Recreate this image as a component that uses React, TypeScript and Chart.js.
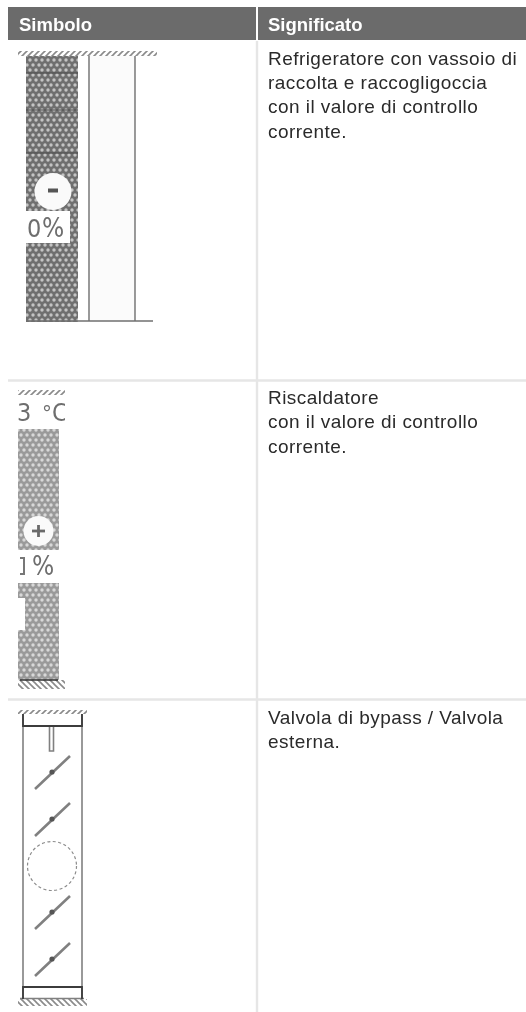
import React, { useEffect, useRef } from "react";
import { Chart, registerables } from "chart.js";

Chart.register(...registerables);

type P = [number, number];
type Mark = { x: number; y: number; text: string };

const headerLabels: Mark[] = [
  { x: 19, y: 31, text: "Simbolo" },
  { x: 268, y: 31, text: "Significato" },
];
const bodyLabels: Mark[] = [
  { x: 268, y: 64.5, text: "Refrigeratore con vassoio di" },
  { x: 268, y: 88.5, text: "raccolta e raccogligoccia" },
  { x: 268, y: 113, text: "con il valore di controllo" },
  { x: 268, y: 137.5, text: "corrente." },
  { x: 268, y: 404, text: "Riscaldatore" },
  { x: 268, y: 428, text: "con il valore di controllo" },
  { x: 268, y: 452.5, text: "corrente." },
  { x: 268, y: 724, text: "Valvola di bypass / Valvola" },
  { x: 268, y: 748, text: "esterna." },
];
const symbolLabels: (Mark & { size: number })[] = [
  { x: 27, y: 237, text: "0", size: 25 },
  { x: 42, y: 237, text: "%", size: 26 },
  { x: 17, y: 421, text: "3", size: 25 },
  { x: 42, y: 421, text: "°", size: 22 },
  { x: 52, y: 421, text: "C", size: 25 },
  { x: 32, y: 575, text: "%", size: 26 },
];

const headerBars: P[][] = [[[8, 23.5], [256, 23.5]], [[258, 23.5], [526, 23.5]]];
const tableRules: P[][] = [
  [[8, 380.5], [526, 380.5]],
  [[8, 699.5], [526, 699.5]],
  [[257, 41], [257, 1012]],
];

const dotFillDark: P[][] = [[[52, 56], [52, 322]]];
const dotFillLight: P[][] = [[[38.5, 429], [38.5, 550]], [[38.5, 583], [38.5, 680]]];
const paleFill: P[][] = [[[112, 56], [112, 321]]];
const whiteBoxes: { seg: P[]; w: number }[] = [
  { seg: [[24, 227], [70, 227]], w: 32 },
  { seg: [[18, 614], [25, 614]], w: 32 },
];
const hatchTop: { seg: P[]; w: number }[] = [
  { seg: [[18, 53.5], [157, 53.5]], w: 5 },
  { seg: [[18, 392.5], [65, 392.5]], w: 5 },
  { seg: [[18, 712], [87, 712]], w: 4 },
];
const hatchBottom: { seg: P[]; w: number }[] = [
  { seg: [[18, 684.5], [65, 684.5]], w: 9 },
  { seg: [[18, 1002.5], [87, 1002.5]], w: 7 },
];
const fridgeLines: P[][] = [
  [[89, 56], [89, 321]],
  [[135, 56], [135, 321]],
  [[26, 321], [153, 321]],
];
const fridgeBands: P[][] = [
  [[26, 110], [78, 110]],
  [[26, 73], [78, 73]],
  [[26, 153], [78, 153]],
];
const heaterLines: P[][] = [[[20, 680], [58, 680]]];
const valveFrame: P[][] = [
  [[23, 714], [23, 999]],
  [[82, 714], [82, 999]],
  [[49.5, 727], [49.5, 751], [53.5, 751], [53.5, 727]],
  [[20, 998.5], [84, 998.5]],
];
const valveDark: P[][] = [
  [[23, 714], [23, 726], [82, 726], [82, 714]],
  [[82, 999], [82, 987], [23, 987], [23, 999]],
];
const valveSlats: P[][] = [
  [[35, 789], [70, 756]],
  [[35, 836], [70, 803]],
  [[35, 929], [70, 896]],
  [[35, 976], [70, 943]],
];
const slatPivots: P[] = [[52, 772], [52, 819], [52, 912], [52, 959]];
const knobDiscs: { at: P; r: number }[] = [
  { at: [53, 191.5], r: 18.5 },
  { at: [38.5, 531], r: 15 },
];
const minusMark: P[][] = [[[48, 190.5], [58, 190.5]]];
const plusMark: P[][] = [
  [[32, 531], [45, 531]],
  [[38.5, 525], [38.5, 537]],
];
const dashedCircleAt: P = [52, 866];
const clippedZero: P[][] = [[[20, 558], [24, 558], [24, 574], [20, 574]]];

function dotPattern(bg: string, dot: string): CanvasPattern {
  const c = document.createElement("canvas");
  c.width = 6;
  c.height = 10;
  const g = c.getContext("2d")!;
  g.fillStyle = bg;
  g.fillRect(0, 0, 6, 10);
  g.fillStyle = dot;
  for (const [x, y] of [[0, 0], [6, 0], [0, 10], [6, 10], [3, 5]]) {
    g.beginPath();
    g.arc(x, y, 1.7, 0, Math.PI * 2);
    g.fill();
  }
  return g.createPattern(c, "repeat")!;
}

function hatchPattern(bg: string, ink: string, flip: boolean): CanvasPattern {
  const c = document.createElement("canvas");
  c.width = 6;
  c.height = 6;
  const g = c.getContext("2d")!;
  g.fillStyle = bg;
  g.fillRect(0, 0, 6, 6);
  g.strokeStyle = ink;
  g.lineWidth = 1.6;
  const lines = flip
    ? [[-3, 3, 3, 9], [0, 0, 6, 6], [3, -3, 9, 3]]
    : [[-3, 3, 3, -3], [0, 6, 6, 0], [3, 9, 9, 3]];
  for (const [a, b, d, e] of lines) {
    g.beginPath();
    g.moveTo(a, b);
    g.lineTo(d, e);
    g.stroke();
  }
  return g.createPattern(c, "repeat")!;
}

const toPts = (s: P[]) => s.map(([x, y]) => ({ x, y }));

function stroke(segs: P[][], color: any, w: number, blur = 0.6) {
  return segs.map((s) => ({
    data: toPts(s),
    showLine: true,
    borderColor: color,
    borderWidth: w,
    pointRadius: 0,
    fill: false,
    tension: 0,
    borderCapStyle: "butt",
    blur,
  }));
}

export default function App() {
  const ref = useRef<HTMLCanvasElement>(null);
  useEffect(() => {
    const darkDots = dotPattern("#6f6f6f", "#c4c4c4");
    const lightDots = dotPattern("#9a9a9a", "#d8d8d8");
    const topHatch = hatchPattern("#ffffff", "#8a8a8a", false);
    const botHatch = hatchPattern("#ffffff", "#8a8a8a", true);

    const layers: any[] = [
      ...stroke(tableRules, "#e6e6e6", 2.4, 0),
      ...stroke(headerBars, "#6b6b6b", 33, 0),
      ...stroke(paleFill, "#fbfbfb", 46),
      ...stroke(dotFillDark, darkDots, 52),
      ...stroke(dotFillLight, lightDots, 41),
      ...whiteBoxes.flatMap((b) => stroke([b.seg], "#ffffff", b.w)),
      ...hatchTop.flatMap((b) => stroke([b.seg], topHatch, b.w)),
      ...hatchBottom.flatMap((b) => stroke([b.seg], botHatch, b.w)),
      ...stroke(fridgeLines, "#6f6f6f", 1.4),
      ...stroke(fridgeBands, "#4a4a4a", 1.2),
      ...stroke(heaterLines, "#333333", 1.6),
      ...stroke(clippedZero, "#777777", 2),
      ...stroke(valveFrame, "#808080", 1.6),
      ...stroke(valveDark, "#3c3c3c", 1.8),
      ...stroke(valveSlats, "#808080", 2.6),
      {
        data: toPts(slatPivots),
        showLine: false,
        pointRadius: 2.6,
        pointBorderWidth: 0,
        pointBackgroundColor: "#555555",
        blur: 0.5,
      },
      {
        data: toPts([dashedCircleAt]),
        showLine: false,
        pointRadius: 24.5,
        pointBorderWidth: 1.2,
        pointBorderColor: "#8c8c8c",
        pointBackgroundColor: "rgba(255,255,255,0)",
        dash: [3, 2.5],
        blur: 0.3,
      },
      ...knobDiscs.map((k) => ({
        data: toPts([k.at]),
        showLine: false,
        pointRadius: k.r,
        pointBorderWidth: 0,
        pointBackgroundColor: "#fafafa",
        blur: 0.6,
      })),
      ...stroke(minusMark, "#555555", 4),
      ...stroke(plusMark, "#6a6a6a", 2.8),
    ];

    const chart = new Chart(ref.current!, {
      type: "scatter",
      data: { datasets: layers.reverse() },
      options: {
        animation: false,
        responsive: false,
        events: [],
        layout: { padding: 0, autoPadding: false },
        plugins: { legend: { display: false }, tooltip: { enabled: false }, title: { display: false } },
        scales: {
          x: { type: "linear", min: 0, max: 526, display: false },
          y: { type: "linear", min: 0, max: 1012, reverse: true, display: false },
        },
      },
      plugins: [
        {
          id: "layerEffects",
          beforeDatasetDraw(c: any, args: any) {
            const d = c.data.datasets[args.index];
            c.ctx.save();
            if (d.blur) c.ctx.filter = `blur(${d.blur}px)`;
            if (d.dash) c.ctx.setLineDash(d.dash);
          },
          afterDatasetDraw(c: any) {
            c.ctx.restore();
          },
        },
        {
          id: "tableText",
          afterDatasetsDraw(c: any) {
            const g = c.ctx;
            const sx = c.scales.x;
            const sy = c.scales.y;
            g.save();
            g.textBaseline = "alphabetic";
            g.textAlign = "left";
            g.fillStyle = "#ffffff";
            g.font = 'bold 18.5px "Liberation Sans"';
            for (const t of headerLabels) g.fillText(t.text, sx.getPixelForValue(t.x), sy.getPixelForValue(t.y));
            g.fillStyle = "#2a2a2a";
            g.font = '19px "Liberation Sans"';
            g.letterSpacing = "0.45px";
            for (const t of bodyLabels) g.fillText(t.text, sx.getPixelForValue(t.x), sy.getPixelForValue(t.y));
            g.letterSpacing = "0px";
            g.fillStyle = "#6e6e6e";
            g.filter = "blur(0.5px)";
            g.beginPath();
            g.rect(sx.getPixelForValue(0), sy.getPixelForValue(0), sx.getPixelForValue(65), sy.getPixelForValue(1012));
            g.rect(sx.getPixelForValue(66), sy.getPixelForValue(0), 0, 0);
            g.clip();
            for (const t of symbolLabels) {
              g.font = `${t.size}px "DejaVu Sans Condensed", "DejaVu Sans"`;
              g.fillText(t.text, sx.getPixelForValue(t.x), sy.getPixelForValue(t.y));
            }
            g.restore();
          },
        },
      ],
    } as any);
    return () => chart.destroy();
  }, []);
  return (
    <canvas
      ref={ref}
      width={526}
      height={1012}
      style={{ position: "absolute", left: 0, top: 0, display: "block", width: 526, height: 1012 }}
    />
  );
}
